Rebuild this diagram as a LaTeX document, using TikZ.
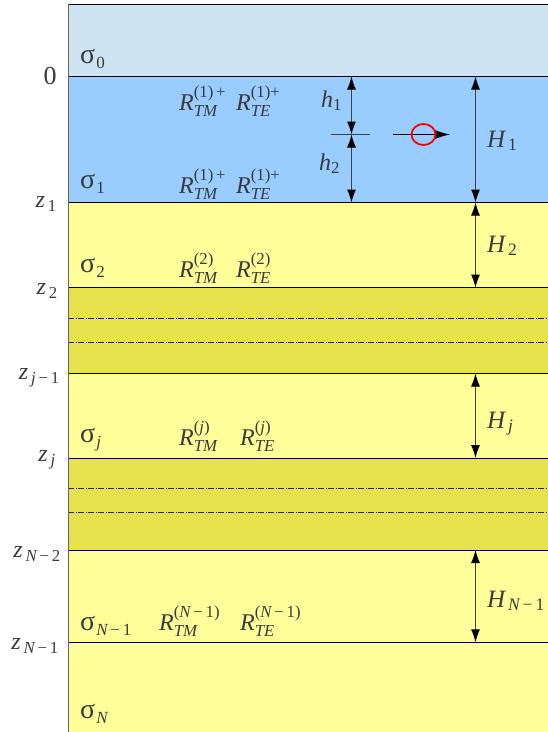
\documentclass[tikz,border=0pt]{standalone}
\usepackage{amsmath}
\usepackage{fontspec}
\setmainfont{Liberation Serif}
\usetikzlibrary{arrows.meta}
\definecolor{airC}{HTML}{CFE4F2}
\definecolor{layA}{HTML}{99CCFF}
\definecolor{layY}{HTML}{FFFF99}
\definecolor{layD}{HTML}{E6E34C}
\definecolor{txtC}{HTML}{3A3A3A}
\newcommand\iv[1]{\text{\itshape #1}}
\newcommand\RR[2]{$\iv{R}^{\text{#1}}_{\iv{#2}}$}
\newcommand\sg[1]{{\fontsize{28}{28}\selectfont σ}\kern1pt\raisebox{-5pt}{\fontsize{17}{17}\selectfont #1}}
\begin{document}
\begin{tikzpicture}[x=1pt,y=-1pt,
  lbl/.style={inner sep=0pt, text=txtC, font=\fontsize{24}{28}\selectfont},
  bw/.style={lbl, anchor=base west},
  zl/.style={lbl, anchor=east},
  bound/.style={draw=black, line width=0.8pt},
  dd/.style={draw=black!85, line width=0.6pt, dash pattern=on 6pt off 1.5pt on 1pt off 1.5pt},
  dimarr/.style={draw=black!75, line width=1pt, {Latex[length=13pt,width=9pt,black]}-{Latex[length=13pt,width=9pt,black]}},
  srcarr/.style={draw=black, line width=1pt, -{Latex[length=15pt,width=9pt,black]}},
]
\useasboundingbox (0,0) rectangle (548,732);
\fill[white] (0,0) rectangle (548,732);
% layers
\fill[airC] (68,4) rectangle (548,76.5);
\fill[layA] (68,76.5) rectangle (548,202.5);
\fill[layY] (68,202.5) rectangle (548,287.5);
\fill[layD] (68,287.5) rectangle (548,373.5);
\fill[layY] (68,373.5) rectangle (548,458);
\fill[layD] (68,458) rectangle (548,550);
\fill[layY] (68,550) rectangle (548,732);
% boundaries
\draw[bound] (68,4) -- (548,4);
\draw[bound] (68,76.5) -- (548,76.5);
\draw[bound] (68,202.5) -- (548,202.5);
\draw[bound] (68,287.5) -- (548,287.5);
\draw[bound] (68,373.5) -- (548,373.5);
\draw[bound] (68,458) -- (548,458);
\draw[bound] (68,550) -- (548,550);
\draw[bound] (68,642.3) -- (548,642.3);
\draw[dd] (68,318) -- (548,318);
\draw[dd] (68,342.7) -- (548,342.7);
\draw[dd] (68,488.7) -- (548,488.7);
\draw[dd] (68,512.7) -- (548,512.7);
\draw[draw=black!60, line width=0.8pt] (68,4) -- (68,732);
% depth labels
\node[lbl, font=\fontsize{26}{28}\selectfont] (zzero) at (50,76) {0};
\node[zl] (z1) at (57,204) {$\iv{z}_{\,\text{1}}$};
\node[zl] (z2) at (58,291) {$\iv{z}_{\,\text{2}}$};
\node[zl] (zjm) at (60,378) {$\iv{z}_{\,\iv{j}\text{\,−\,1}}$};
\node[zl] (zj) at (56,460) {$\iv{z}_{\,\iv{j}}$};
\node[zl] (zn2) at (61,554) {$\iv{z}_{\,\iv{N}\text{\,−\,2}}$};
\node[zl] (zn1) at (59,646) {$\iv{z}_{\,\iv{N}\text{\,−\,1}}$};
% sigma labels
\node[bw] (s0) at (80,63) {\sg{0}};
\node[bw] (s1) at (80,188) {\sg{1}};
\node[bw] (s2) at (80,272) {\sg{2}};
\node[bw] (sj) at (80,442) {\sg{\itshape j}};
\node[bw] (sn1) at (80,630) {\sg{\itshape N\upshape\,−\,1}};
\node[bw] (sn) at (80,718) {\sg{\itshape N}};
% R labels
\node[bw] (r1a) at (179,110) {\RR{(1)\,+}{TM}};
\node[bw] (r1b) at (236,110) {\RR{(1)+}{TE}};
\node[bw] (r1c) at (179,193) {\RR{(1)\,+}{TM}};
\node[bw] (r1d) at (236,193) {\RR{(1)+}{TE}};
\node[bw] (r2a) at (179,277) {\RR{(2)}{TM}};
\node[bw] (r2b) at (236,277) {\RR{(2)}{TE}};
\node[bw] (rja) at (179,445) {\RR{(\itshape j\upshape)}{TM}};
\node[bw] (rjb) at (240,445) {\RR{(\itshape j\upshape)}{TE}};
\node[bw] (rna) at (159,630) {\RR{(\itshape N\upshape\,−\,1)}{TM}};
\node[bw] (rnb) at (240,630) {\RR{(\itshape N\upshape\,−\,1)}{TE}};
% h dimension
\coordinate (htop) at (351.5,76.5);
\coordinate (hmid) at (351.5,134.5);
\coordinate (hbot) at (351.5,202.5);
\coordinate (tickl) at (330.5,134.5);
\coordinate (tickr) at (370,134.5);
\draw[dimarr] (htop) -- (hmid);
\draw[dimarr] (hmid) -- (hbot);
\draw[draw=black!75, line width=1pt] (tickl) -- (tickr);
\node[bw] (h1) at (321,107) {$\iv{h}_{\text{1}}$};
\node[bw] (h2) at (319,170) {$\iv{h}_{\text{2}}$};
% source
\coordinate (srcs) at (393,134.5);
\coordinate (srce) at (450,134.5);
\coordinate (srcc) at (423.5,134.5);
\draw[srcarr] (srcs) -- (srce);
\draw[red, line width=1.8pt] (srcc) ellipse [x radius=12, y radius=10.5];
% H dimensions
\coordinate (H1t) at (475.5,76.5);
\coordinate (H1b) at (475.5,202.5);
\coordinate (H2b) at (475.5,287.5);
\coordinate (Hjt) at (475.5,373.5);
\coordinate (Hjb) at (475.5,458);
\coordinate (Hnt) at (475.5,550);
\coordinate (Hnb) at (475.5,642.3);
\draw[dimarr] (H1t) -- (H1b);
\draw[dimarr] (H1b) -- (H2b);
\draw[dimarr] (Hjt) -- (Hjb);
\draw[dimarr] (Hnt) -- (Hnb);
\node[bw, font=\fontsize{25}{28}\selectfont] (H1) at (487,147) {$\iv{H}_{\,\text{1}}$};
\node[bw, font=\fontsize{25}{28}\selectfont] (H2) at (487,252) {$\iv{H}_{\,\text{2}}$};
\node[bw, font=\fontsize{25}{28}\selectfont] (Hj) at (487,428) {$\iv{H}_{\,\iv{j}}$};
\node[bw, font=\fontsize{25}{28}\selectfont] (Hn) at (487,607) {$\iv{H}_{\,\iv{N}\text{\,−\,1}}$};
\end{tikzpicture}
\end{document}
